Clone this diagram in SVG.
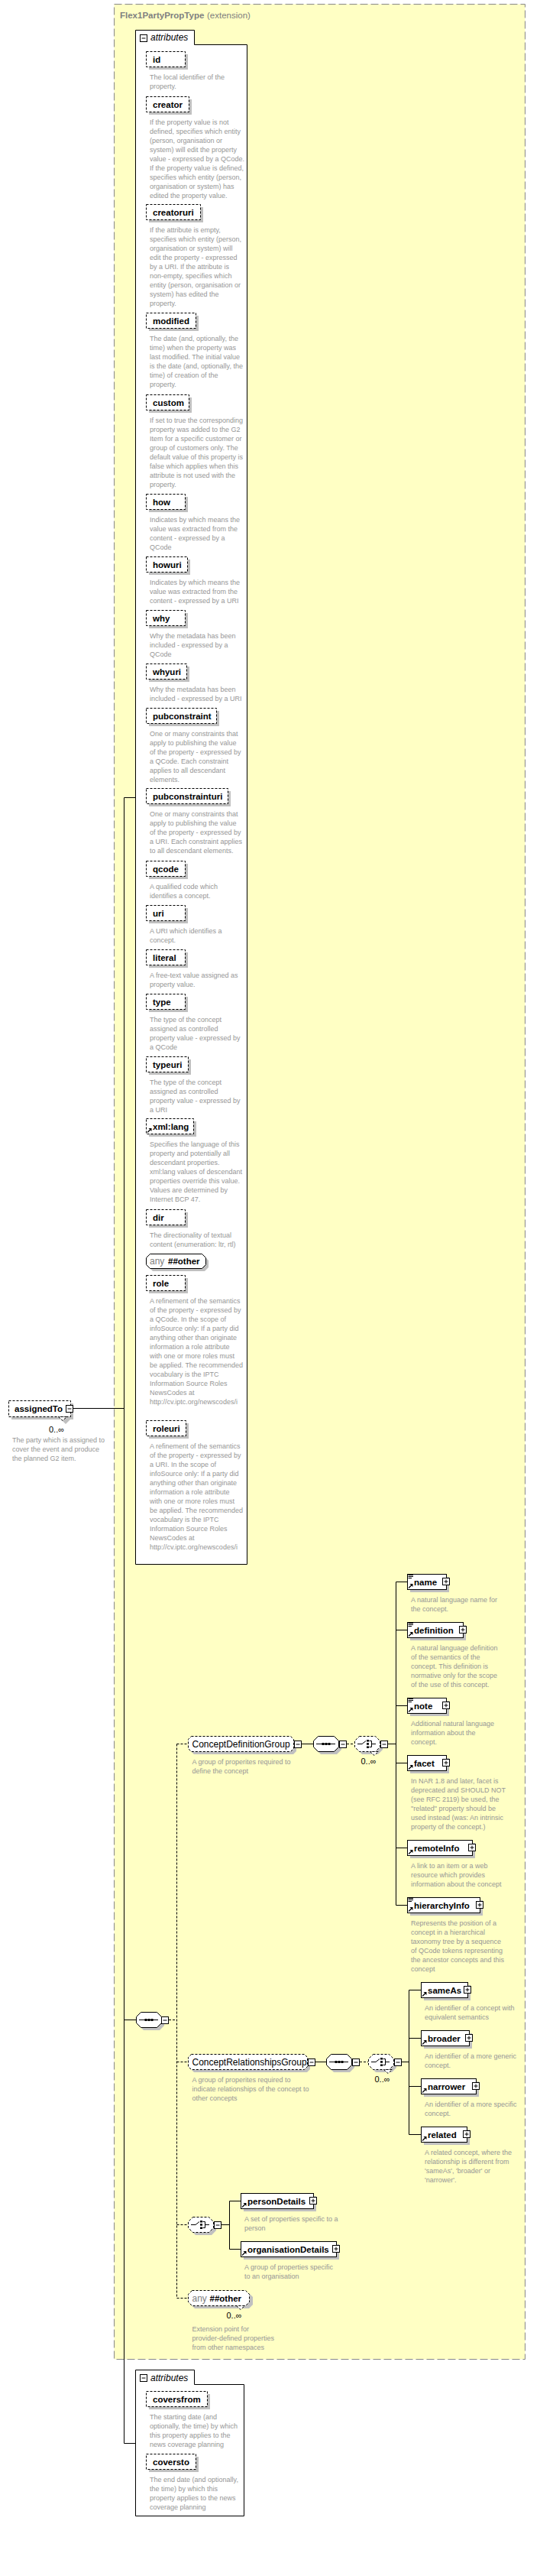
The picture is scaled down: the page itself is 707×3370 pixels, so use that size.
<svg xmlns="http://www.w3.org/2000/svg" xmlns:xlink="http://www.w3.org/1999/xlink" width="707" height="3370" viewBox="0 0 707 3370">
<style>
.d{font-family:"Liberation Sans",Arial,sans-serif;font-size:9px;fill:#969696}
.n{font-family:"Liberation Sans",Arial,sans-serif;font-size:11.5px;font-weight:bold;fill:#000}
.g{font-family:"Liberation Sans",Arial,sans-serif;font-size:12px;fill:#000}
.o{font-family:"Liberation Sans",Arial,sans-serif;font-size:11px;fill:#000}
.an{font-family:"Liberation Sans",Arial,sans-serif;font-size:12px;fill:#808080}
.tt{font-family:"Liberation Sans",Arial,sans-serif;font-size:11.5px;font-weight:bold;fill:#808080}
.tx{font-family:"Liberation Sans",Arial,sans-serif;font-size:11.5px;fill:#808080}
.at{font-family:"Liberation Sans",Arial,sans-serif;font-size:12px;font-style:italic;fill:#000}
.sh{fill:#c0c0c0}
.ab{fill:#fff;stroke:#000;stroke-width:1;stroke-dasharray:3,2}
.eb{fill:#fff;stroke:#000;stroke-width:1}
.ln{stroke:#000;stroke-width:1;fill:none}
.dl{stroke:#000;stroke-width:1;fill:none;stroke-dasharray:3,2}
</style>
<defs>
<g id="mi"><rect x="0.5" y="0.5" width="9" height="9" fill="#fff" stroke="#000"/><path d="M2.5 5H7.5" stroke="#000"/></g>
<g id="pl"><rect x="0.5" y="0.5" width="9" height="9" fill="#fff" stroke="#000"/><path d="M2.5 5H7.5M5 2.5V7.5" stroke="#000"/></g>
<g id="ar"><path d="M1 7.5L5 3.5" stroke="#000" stroke-width="1.2"/><path d="M2.5 2H6.5V6Z" fill="#000"/></g>
<g id="li"><path d="M1.5 1.5H8M1.5 3.5H8M1.5 5.5H6" stroke="#000"/></g>
<g id="seqic"><path d="M4 10.5H29" stroke="#000"/><rect x="11.5" y="9" width="3" height="3"/><rect x="15.5" y="9" width="3" height="3"/><rect x="19.5" y="9" width="3" height="3"/></g>
<g id="choic"><path d="M4 10.5H10L15 6.5" stroke="#000" fill="none"/><rect x="16" y="5" width="3" height="2.5"/><rect x="16" y="9.2" width="3" height="2.5"/><rect x="16" y="13.5" width="3" height="2.5"/><path d="M19.5 6.5H22.5V14.5H19.5M22.5 10.5H28" stroke="#000" fill="none"/></g>
<g id="seqS"><polygon points="10,4 31,4 37,10 37,18 31,24 10,24 4,18 4,10" fill="#c0c0c0"/><polygon points="6.5,0.5 27.5,0.5 33.5,6.5 33.5,14.5 27.5,20.5 6.5,20.5 0.5,14.5 0.5,6.5" class="eb"/><use xlink:href="#seqic"/></g>
<g id="choS"><polygon points="10,4 31,4 37,10 37,18 31,24 10,24 4,18 4,10" fill="#c0c0c0"/><polygon points="6.5,0.5 27.5,0.5 33.5,6.5 33.5,14.5 27.5,20.5 6.5,20.5 0.5,14.5 0.5,6.5" class="ab"/><use xlink:href="#choic"/></g>
</defs>

<g id="container">
<rect x="149.5" y="5.5" width="538" height="3081" fill="#ffffc4" stroke="#888" stroke-dasharray="10,4"/>
<text class="tt" x="157" y="24">Flex1PartyPropType</text><text class="tx" x="271" y="24">(extension)</text>
</g>

<g id="connectors">
<path class="ln" d="M162.5 1043.5V3196.5M162.5 1043.5H177M162.5 3196.5H177M96 1842.5H162.5M162.5 2642.5H178"/>
<path class="dl" d="M221 2642.5H231.5M231.5 2281.5V3006.5M231.5 2281.5H246M231.5 2697.5H246M231.5 2910.5H246M231.5 3006.5H246"/>
<path class="ln" d="M395 2281.5H410M508 2281.5H518.5M518.5 2069.5V2492.5M518.5 2069.5H533M518.5 2132.5H533M518.5 2231.5H533M518.5 2306.5H533M518.5 2417.5H533M518.5 2492.5H533"/>
<path class="dl" d="M454 2281.5H464"/>
<path class="ln" d="M413 2697.5H427M526 2697.5H535.5M535.5 2603.5V2792.5M535.5 2603.5H551M535.5 2666.5H551M535.5 2729.5H551M535.5 2792.5H551"/>
<path class="dl" d="M471 2697.5H482"/>
<path class="ln" d="M290 2910.5H300.5M300.5 2879.5V2942.5M300.5 2879.5H315M300.5 2942.5H315"/>
</g>

<g id="assignedTo" transform="translate(11,1832)">
<rect class="sh" x="4" y="4" width="81" height="21"/>
<polygon points="69,25 75,31 81,25" class="sh"/>
<rect class="ab" x="0.5" y="0.5" width="81" height="21"/>
<polygon points="65.5,21.5 71,26.5 76.5,21.5" class="ab"/>
<text class="n" x="8" y="15">assignedTo</text>
<use xlink:href="#mi" x="75" y="6"/>
<text class="o" x="53" y="42">0..∞</text>
<text class="d" y="55"><tspan x="5">The party which is assigned to</tspan><tspan x="5" dy="12">cover the event and produce</tspan><tspan x="5" dy="12">the planned G2 item.</tspan></text>
</g>

<g id="attributes">
<path d="M177.5 39.5H254.5V58.5H323.5V2046.5H177.5Z" fill="#fff" stroke="#000"/>
<use xlink:href="#mi" x="183" y="45"/>
<text class="at" x="197" y="53">attributes</text>
</g>

<g id="attr-id" transform="translate(191,67)"><rect class="sh" x="4" y="4" width="51" height="20"/><rect class="ab" x="0.5" y="0.5" width="51" height="20"/><text class="n" x="9" y="14.5">id</text>
<text class="d" y="37"><tspan x="5">The local identifier of the</tspan><tspan x="5" dy="12">property.</tspan></text></g>

<g id="attr-creator" transform="translate(191,126)"><rect class="sh" x="4" y="4" width="56" height="20"/><rect class="ab" x="0.5" y="0.5" width="56" height="20"/><text class="n" x="9" y="14.5">creator</text>
<text class="d" y="37"><tspan x="5">If the property value is not</tspan><tspan x="5" dy="12">defined, specifies which entity</tspan><tspan x="5" dy="12">(person, organisation or</tspan><tspan x="5" dy="12">system) will edit the property</tspan><tspan x="5" dy="12">value - expressed by a QCode.</tspan><tspan x="5" dy="12">If the property value is defined,</tspan><tspan x="5" dy="12">specifies which entity (person,</tspan><tspan x="5" dy="12">organisation or system) has</tspan><tspan x="5" dy="12">edited the property value.</tspan></text></g>

<g id="attr-creatoruri" transform="translate(191,267)"><rect class="sh" x="4" y="4" width="71" height="20"/><rect class="ab" x="0.5" y="0.5" width="71" height="20"/><text class="n" x="9" y="14.5">creatoruri</text>
<text class="d" y="37"><tspan x="5">If the attribute is empty,</tspan><tspan x="5" dy="12">specifies which entity (person,</tspan><tspan x="5" dy="12">organisation or system) will</tspan><tspan x="5" dy="12">edit the property - expressed</tspan><tspan x="5" dy="12">by a URI. If the attribute is</tspan><tspan x="5" dy="12">non-empty, specifies which</tspan><tspan x="5" dy="12">entity (person, organisation or</tspan><tspan x="5" dy="12">system) has edited the</tspan><tspan x="5" dy="12">property.</tspan></text></g>

<g id="attr-modified" transform="translate(191,409)"><rect class="sh" x="4" y="4" width="65" height="20"/><rect class="ab" x="0.5" y="0.5" width="65" height="20"/><text class="n" x="9" y="14.5">modified</text>
<text class="d" y="37"><tspan x="5">The date (and, optionally, the</tspan><tspan x="5" dy="12">time) when the property was</tspan><tspan x="5" dy="12">last modified. The initial value</tspan><tspan x="5" dy="12">is the date (and, optionally, the</tspan><tspan x="5" dy="12">time) of creation of the</tspan><tspan x="5" dy="12">property.</tspan></text></g>

<g id="attr-custom" transform="translate(191,516)"><rect class="sh" x="4" y="4" width="56" height="20"/><rect class="ab" x="0.5" y="0.5" width="56" height="20"/><text class="n" x="9" y="14.5">custom</text>
<text class="d" y="37"><tspan x="5">If set to true the corresponding</tspan><tspan x="5" dy="12">property was added to the G2</tspan><tspan x="5" dy="12">Item for a specific customer or</tspan><tspan x="5" dy="12">group of customers only. The</tspan><tspan x="5" dy="12">default value of this property is</tspan><tspan x="5" dy="12">false which applies when this</tspan><tspan x="5" dy="12">attribute is not used with the</tspan><tspan x="5" dy="12">property.</tspan></text></g>

<g id="attr-how" transform="translate(191,646)"><rect class="sh" x="4" y="4" width="51" height="20"/><rect class="ab" x="0.5" y="0.5" width="51" height="20"/><text class="n" x="9" y="14.5">how</text>
<text class="d" y="37"><tspan x="5">Indicates by which means the</tspan><tspan x="5" dy="12">value was extracted from the</tspan><tspan x="5" dy="12">content - expressed by a</tspan><tspan x="5" dy="12">QCode</tspan></text></g>

<g id="attr-howuri" transform="translate(191,728)"><rect class="sh" x="4" y="4" width="54" height="20"/><rect class="ab" x="0.5" y="0.5" width="54" height="20"/><text class="n" x="9" y="14.5">howuri</text>
<text class="d" y="37"><tspan x="5">Indicates by which means the</tspan><tspan x="5" dy="12">value was extracted from the</tspan><tspan x="5" dy="12">content - expressed by a URI</tspan></text></g>

<g id="attr-why" transform="translate(191,798)"><rect class="sh" x="4" y="4" width="51" height="20"/><rect class="ab" x="0.5" y="0.5" width="51" height="20"/><text class="n" x="9" y="14.5">why</text>
<text class="d" y="37"><tspan x="5">Why the metadata has been</tspan><tspan x="5" dy="12">included - expressed by a</tspan><tspan x="5" dy="12">QCode</tspan></text></g>

<g id="attr-whyuri" transform="translate(191,868)"><rect class="sh" x="4" y="4" width="53" height="20"/><rect class="ab" x="0.5" y="0.5" width="53" height="20"/><text class="n" x="9" y="14.5">whyuri</text>
<text class="d" y="37"><tspan x="5">Why the metadata has been</tspan><tspan x="5" dy="12">included - expressed by a URI</tspan></text></g>

<g id="attr-pubconstraint" transform="translate(191,926)"><rect class="sh" x="4" y="4" width="92" height="20"/><rect class="ab" x="0.5" y="0.5" width="92" height="20"/><text class="n" x="9" y="14.5">pubconstraint</text>
<text class="d" y="37"><tspan x="5">One or many constraints that</tspan><tspan x="5" dy="12">apply to publishing the value</tspan><tspan x="5" dy="12">of the property - expressed by</tspan><tspan x="5" dy="12">a QCode. Each constraint</tspan><tspan x="5" dy="12">applies to all descendant</tspan><tspan x="5" dy="12">elements.</tspan></text></g>

<g id="attr-pubconstrainturi" transform="translate(191,1031)"><rect class="sh" x="4" y="4" width="107" height="20"/><rect class="ab" x="0.5" y="0.5" width="107" height="20"/><text class="n" x="9" y="14.5">pubconstrainturi</text>
<text class="d" y="37"><tspan x="5">One or many constraints that</tspan><tspan x="5" dy="12">apply to publishing the value</tspan><tspan x="5" dy="12">of the property - expressed by</tspan><tspan x="5" dy="12">a URI. Each constraint applies</tspan><tspan x="5" dy="12">to all descendant elements.</tspan></text></g>

<g id="attr-qcode" transform="translate(191,1126)"><rect class="sh" x="4" y="4" width="51" height="20"/><rect class="ab" x="0.5" y="0.5" width="51" height="20"/><text class="n" x="9" y="14.5">qcode</text>
<text class="d" y="37"><tspan x="5">A qualified code which</tspan><tspan x="5" dy="12">identifies a concept.</tspan></text></g>

<g id="attr-uri" transform="translate(191,1184)"><rect class="sh" x="4" y="4" width="51" height="20"/><rect class="ab" x="0.5" y="0.5" width="51" height="20"/><text class="n" x="9" y="14.5">uri</text>
<text class="d" y="37"><tspan x="5">A URI which identifies a</tspan><tspan x="5" dy="12">concept.</tspan></text></g>

<g id="attr-literal" transform="translate(191,1242)"><rect class="sh" x="4" y="4" width="51" height="20"/><rect class="ab" x="0.5" y="0.5" width="51" height="20"/><text class="n" x="9" y="14.5">literal</text>
<text class="d" y="37"><tspan x="5">A free-text value assigned as</tspan><tspan x="5" dy="12">property value.</tspan></text></g>

<g id="attr-type" transform="translate(191,1300)"><rect class="sh" x="4" y="4" width="51" height="20"/><rect class="ab" x="0.5" y="0.5" width="51" height="20"/><text class="n" x="9" y="14.5">type</text>
<text class="d" y="37"><tspan x="5">The type of the concept</tspan><tspan x="5" dy="12">assigned as controlled</tspan><tspan x="5" dy="12">property value - expressed by</tspan><tspan x="5" dy="12">a QCode</tspan></text></g>

<g id="attr-typeuri" transform="translate(191,1382)"><rect class="sh" x="4" y="4" width="55" height="20"/><rect class="ab" x="0.5" y="0.5" width="55" height="20"/><text class="n" x="9" y="14.5">typeuri</text>
<text class="d" y="37"><tspan x="5">The type of the concept</tspan><tspan x="5" dy="12">assigned as controlled</tspan><tspan x="5" dy="12">property value - expressed by</tspan><tspan x="5" dy="12">a URI</tspan></text></g>

<g id="attr-xmllang" transform="translate(191,1463)"><rect class="sh" x="4" y="4" width="62" height="20"/><rect class="ab" x="0.5" y="0.5" width="62" height="20"/><use xlink:href="#ar" x="1" y="11"/><text class="n" x="9" y="14.5">xml:lang</text>
<text class="d" y="37"><tspan x="5">Specifies the language of this</tspan><tspan x="5" dy="12">property and potentially all</tspan><tspan x="5" dy="12">descendant properties.</tspan><tspan x="5" dy="12">xml:lang values of descendant</tspan><tspan x="5" dy="12">properties override this value.</tspan><tspan x="5" dy="12">Values are determined by</tspan><tspan x="5" dy="12">Internet BCP 47.</tspan></text></g>

<g id="attr-dir" transform="translate(191,1582)"><rect class="sh" x="4" y="4" width="51" height="20"/><rect class="ab" x="0.5" y="0.5" width="51" height="20"/><text class="n" x="9" y="14.5">dir</text>
<text class="d" y="37"><tspan x="5">The directionality of textual</tspan><tspan x="5" dy="12">content (enumeration: ltr, rtl)</tspan></text></g>

<g id="attr-any" transform="translate(191,1640)"><polygon points="9,4 77,4 82,9 82,18 77,23 9,23 4,18 4,9" class="sh"/><polygon points="5.5,0.5 73.5,0.5 78.5,5.5 78.5,14.5 73.5,19.5 5.5,19.5 0.5,14.5 0.5,5.5" class="eb"/><text class="an" x="5" y="14">any</text><text class="n" x="29" y="14">##other</text></g>

<g id="attr-role" transform="translate(191,1668)"><rect class="sh" x="4" y="4" width="51" height="20"/><rect class="ab" x="0.5" y="0.5" width="51" height="20"/><text class="n" x="9" y="14.5">role</text>
<text class="d" y="37"><tspan x="5">A refinement of the semantics</tspan><tspan x="5" dy="12">of the property - expressed by</tspan><tspan x="5" dy="12">a QCode. In the scope of</tspan><tspan x="5" dy="12">infoSource only: If a party did</tspan><tspan x="5" dy="12">anything other than originate</tspan><tspan x="5" dy="12">information a role attribute</tspan><tspan x="5" dy="12">with one or more roles must</tspan><tspan x="5" dy="12">be applied. The recommended</tspan><tspan x="5" dy="12">vocabulary is the IPTC</tspan><tspan x="5" dy="12">Information Source Roles</tspan><tspan x="5" dy="12">NewsCodes at</tspan><tspan x="5" dy="12">http://cv.iptc.org/newscodes/i</tspan></text></g>

<g id="attr-roleuri" transform="translate(191,1858)"><rect class="sh" x="4" y="4" width="52" height="20"/><rect class="ab" x="0.5" y="0.5" width="52" height="20"/><text class="n" x="9" y="14.5">roleuri</text>
<text class="d" y="37"><tspan x="5">A refinement of the semantics</tspan><tspan x="5" dy="12">of the property - expressed by</tspan><tspan x="5" dy="12">a URI. In the scope of</tspan><tspan x="5" dy="12">infoSource only: If a party did</tspan><tspan x="5" dy="12">anything other than originate</tspan><tspan x="5" dy="12">information a role attribute</tspan><tspan x="5" dy="12">with one or more roles must</tspan><tspan x="5" dy="12">be applied. The recommended</tspan><tspan x="5" dy="12">vocabulary is the IPTC</tspan><tspan x="5" dy="12">Information Source Roles</tspan><tspan x="5" dy="12">NewsCodes at</tspan><tspan x="5" dy="12">http://cv.iptc.org/newscodes/i</tspan></text></g>

<g id="main-sequence" transform="translate(178,2632)"><use xlink:href="#seqS"/><use xlink:href="#mi" x="33" y="6"/></g>

<g id="ConceptDefinitionGroup" transform="translate(246,2271)">
<polygon points="8,4 138,4 142,8 142,20 138,24 8,24 4,20 4,8" class="sh"/>
<polygon points="4.5,0.5 134.5,0.5 138.5,4.5 138.5,16.5 134.5,20.5 4.5,20.5 0.5,16.5 0.5,4.5" class="ab"/>
<text class="g" x="5.5" y="15">ConceptDefinitionGroup</text>
<use xlink:href="#mi" x="139" y="6"/>
<text class="d" y="36.5"><tspan x="5.5">A group of properites required to</tspan><tspan x="5.5" dy="12">define the concept</tspan></text>
</g>
<g id="cdg-sequence" transform="translate(410,2271)"><use xlink:href="#seqS"/><use xlink:href="#mi" x="34" y="6"/></g>
<g id="cdg-choice" transform="translate(464,2271)"><use xlink:href="#choS"/><polygon points="20.5,20.5 26,25.5 31.5,20.5" class="ab"/><use xlink:href="#mi" x="34" y="6"/><text class="o" x="8.5" y="37">0..∞</text></g>

<g id="el-name" transform="translate(533,2059)"><rect class="sh" x="4" y="4" width="51" height="20"/><rect class="eb" x="0.5" y="0.5" width="51" height="20"/><use xlink:href="#li"/><use xlink:href="#ar" x="1" y="11"/><text class="n" x="9" y="14.5">name</text><use xlink:href="#pl" x="46" y="5"/>
<text class="d" y="37"><tspan x="5">A natural language name for</tspan><tspan x="5" dy="12">the concept.</tspan></text></g>

<g id="el-definition" transform="translate(533,2122)"><rect class="sh" x="4" y="4" width="73" height="20"/><rect class="eb" x="0.5" y="0.5" width="73" height="20"/><use xlink:href="#li"/><use xlink:href="#ar" x="1" y="11"/><text class="n" x="9" y="14.5">definition</text><use xlink:href="#pl" x="68" y="5"/>
<text class="d" y="37"><tspan x="5">A natural language definition</tspan><tspan x="5" dy="12">of the semantics of the</tspan><tspan x="5" dy="12">concept. This definition is</tspan><tspan x="5" dy="12">normative only for the scope</tspan><tspan x="5" dy="12">of the use of this concept.</tspan></text></g>

<g id="el-note" transform="translate(533,2221)"><rect class="sh" x="4" y="4" width="51" height="20"/><rect class="eb" x="0.5" y="0.5" width="51" height="20"/><use xlink:href="#li"/><use xlink:href="#ar" x="1" y="11"/><text class="n" x="9" y="14.5">note</text><use xlink:href="#pl" x="46" y="5"/>
<text class="d" y="37"><tspan x="5">Additional natural language</tspan><tspan x="5" dy="12">information about the</tspan><tspan x="5" dy="12">concept.</tspan></text></g>

<g id="el-facet" transform="translate(533,2296)"><rect class="sh" x="4" y="4" width="51" height="20"/><rect class="eb" x="0.5" y="0.5" width="51" height="20"/><use xlink:href="#ar" x="1" y="11"/><text class="n" x="9" y="14.5">facet</text><use xlink:href="#pl" x="46" y="5"/>
<text class="d" y="37"><tspan x="5">In NAR 1.8 and later, facet is</tspan><tspan x="5" dy="12">deprecated and SHOULD NOT</tspan><tspan x="5" dy="12">(see RFC 2119) be used, the</tspan><tspan x="5" dy="12">"related" property should be</tspan><tspan x="5" dy="12">used instead (was: An intrinsic</tspan><tspan x="5" dy="12">property of the concept.)</tspan></text></g>

<g id="el-remoteInfo" transform="translate(533,2407)"><rect class="sh" x="4" y="4" width="85" height="20"/><rect class="eb" x="0.5" y="0.5" width="85" height="20"/><use xlink:href="#ar" x="1" y="11"/><text class="n" x="9" y="14.5">remoteInfo</text><use xlink:href="#pl" x="80" y="5"/>
<text class="d" y="37"><tspan x="5">A link to an item or a web</tspan><tspan x="5" dy="12">resource which provides</tspan><tspan x="5" dy="12">information about the concept</tspan></text></g>

<g id="el-hierarchyInfo" transform="translate(533,2482)"><rect class="sh" x="4" y="4" width="95" height="20"/><rect class="eb" x="0.5" y="0.5" width="95" height="20"/><use xlink:href="#li"/><use xlink:href="#ar" x="1" y="11"/><text class="n" x="9" y="14.5">hierarchyInfo</text><use xlink:href="#pl" x="90" y="5"/>
<text class="d" y="37"><tspan x="5">Represents the position of a</tspan><tspan x="5" dy="12">concept in a hierarchical</tspan><tspan x="5" dy="12">taxonomy tree by a sequence</tspan><tspan x="5" dy="12">of QCode tokens representing</tspan><tspan x="5" dy="12">the ancestor concepts and this</tspan><tspan x="5" dy="12">concept</tspan></text></g>

<g id="ConceptRelationshipsGroup" transform="translate(246,2687)">
<polygon points="8,4 156,4 160,8 160,20 156,24 8,24 4,20 4,8" class="sh"/>
<polygon points="4.5,0.5 152.5,0.5 156.5,4.5 156.5,16.5 152.5,20.5 4.5,20.5 0.5,16.5 0.5,4.5" class="ab"/>
<text class="g" x="5.5" y="15">ConceptRelationshipsGroup</text>
<use xlink:href="#mi" x="157" y="6"/>
<text class="d" y="36.5"><tspan x="5.5">A group of properites required to</tspan><tspan x="5.5" dy="12">indicate relationships of the concept to</tspan><tspan x="5.5" dy="12">other concepts</tspan></text>
</g>
<g id="crg-sequence" transform="translate(427,2687)"><use xlink:href="#seqS"/><use xlink:href="#mi" x="34" y="6"/></g>
<g id="crg-choice" transform="translate(482,2687)"><use xlink:href="#choS"/><polygon points="20.5,20.5 26,25.5 31.5,20.5" class="ab"/><use xlink:href="#mi" x="34" y="6"/><text class="o" x="8.5" y="37">0..∞</text></g>

<g id="el-sameAs" transform="translate(551,2593)"><rect class="sh" x="4" y="4" width="61" height="20"/><rect class="eb" x="0.5" y="0.5" width="61" height="20"/><use xlink:href="#ar" x="1" y="11"/><text class="n" x="9" y="14.5">sameAs</text><use xlink:href="#pl" x="56" y="5"/>
<text class="d" y="37"><tspan x="5">An identifier of a concept with</tspan><tspan x="5" dy="12">equivalent semantics</tspan></text></g>

<g id="el-broader" transform="translate(551,2656)"><rect class="sh" x="4" y="4" width="63" height="20"/><rect class="eb" x="0.5" y="0.5" width="63" height="20"/><use xlink:href="#ar" x="1" y="11"/><text class="n" x="9" y="14.5">broader</text><use xlink:href="#pl" x="58" y="5"/>
<text class="d" y="37"><tspan x="5">An identifier of a more generic</tspan><tspan x="5" dy="12">concept.</tspan></text></g>

<g id="el-narrower" transform="translate(551,2719)"><rect class="sh" x="4" y="4" width="72" height="20"/><rect class="eb" x="0.5" y="0.5" width="72" height="20"/><use xlink:href="#ar" x="1" y="11"/><text class="n" x="9" y="14.5">narrower</text><use xlink:href="#pl" x="67" y="5"/>
<text class="d" y="37"><tspan x="5">An identifier of a more specific</tspan><tspan x="5" dy="12">concept.</tspan></text></g>

<g id="el-related" transform="translate(551,2782)"><rect class="sh" x="4" y="4" width="60" height="20"/><rect class="eb" x="0.5" y="0.5" width="60" height="20"/><use xlink:href="#ar" x="1" y="11"/><text class="n" x="9" y="14.5">related</text><use xlink:href="#pl" x="55" y="5"/>
<text class="d" y="37"><tspan x="5">A related concept, where the</tspan><tspan x="5" dy="12">relationship is different from</tspan><tspan x="5" dy="12">'sameAs', 'broader' or</tspan><tspan x="5" dy="12">'narrower'.</tspan></text></g>

<g id="main-choice" transform="translate(246,2900)"><use xlink:href="#choS"/><use xlink:href="#mi" x="34" y="6"/></g>

<g id="el-personDetails" transform="translate(315,2869)"><rect class="sh" x="4" y="4" width="95" height="20"/><rect class="eb" x="0.5" y="0.5" width="95" height="20"/><use xlink:href="#ar" x="1" y="11"/><text class="n" x="9" y="14.5">personDetails</text><use xlink:href="#pl" x="90" y="5"/>
<text class="d" y="37"><tspan x="5">A set of properties specific to a</tspan><tspan x="5" dy="12">person</tspan></text></g>

<g id="el-organisationDetails" transform="translate(315,2932)"><rect class="sh" x="4" y="4" width="125" height="20"/><rect class="eb" x="0.5" y="0.5" width="125" height="20"/><use xlink:href="#ar" x="1" y="11"/><text class="n" x="9" y="14.5">organisationDetails</text><use xlink:href="#pl" x="120" y="5"/>
<text class="d" y="37"><tspan x="5">A group of properties specific</tspan><tspan x="5" dy="12">to an organisation</tspan></text></g>

<g id="any-other" transform="translate(246,2996)">
<polygon points="9,4 80,4 85,9 85,19 80,24 9,24 4,19 4,9" class="sh"/>
<polygon points="5.5,0.5 75.5,0.5 80.5,5.5 80.5,15.5 75.5,20.5 5.5,20.5 0.5,15.5 0.5,5.5" class="ab"/>
<polygon points="63.5,20.5 69,25.5 74.5,20.5" class="ab"/>
<text class="an" x="5.5" y="15">any</text><text class="n" x="28.5" y="15">##other</text>
<text class="o" x="50.5" y="37">0..∞</text>
<text class="d" y="54"><tspan x="5.5">Extension point for</tspan><tspan x="5.5" dy="12">provider-defined properties</tspan><tspan x="5.5" dy="12">from other namespaces</tspan></text>
</g>

<g id="attributes-2">
<path d="M177.5 3100.5H254.5V3119.5H319.5V3291.5H177.5Z" fill="#fff" stroke="#000"/>
<use xlink:href="#mi" x="183" y="3106"/>
<text class="at" x="197" y="3115">attributes</text>
</g>

<g id="attr-coversfrom" transform="translate(191,3128)"><rect class="sh" x="4" y="4" width="80" height="20"/><rect class="ab" x="0.5" y="0.5" width="80" height="20"/><text class="n" x="9" y="14.5">coversfrom</text>
<text class="d" y="37"><tspan x="5">The starting date (and</tspan><tspan x="5" dy="12">optionally, the time) by which</tspan><tspan x="5" dy="12">this property applies to the</tspan><tspan x="5" dy="12">news coverage planning</tspan></text></g>

<g id="attr-coversto" transform="translate(191,3210)"><rect class="sh" x="4" y="4" width="65" height="20"/><rect class="ab" x="0.5" y="0.5" width="65" height="20"/><text class="n" x="9" y="14.5">coversto</text>
<text class="d" y="37"><tspan x="5">The end date (and optionally,</tspan><tspan x="5" dy="12">the time) by which this</tspan><tspan x="5" dy="12">property applies to the news</tspan><tspan x="5" dy="12">coverage planning</tspan></text></g>
</svg>
